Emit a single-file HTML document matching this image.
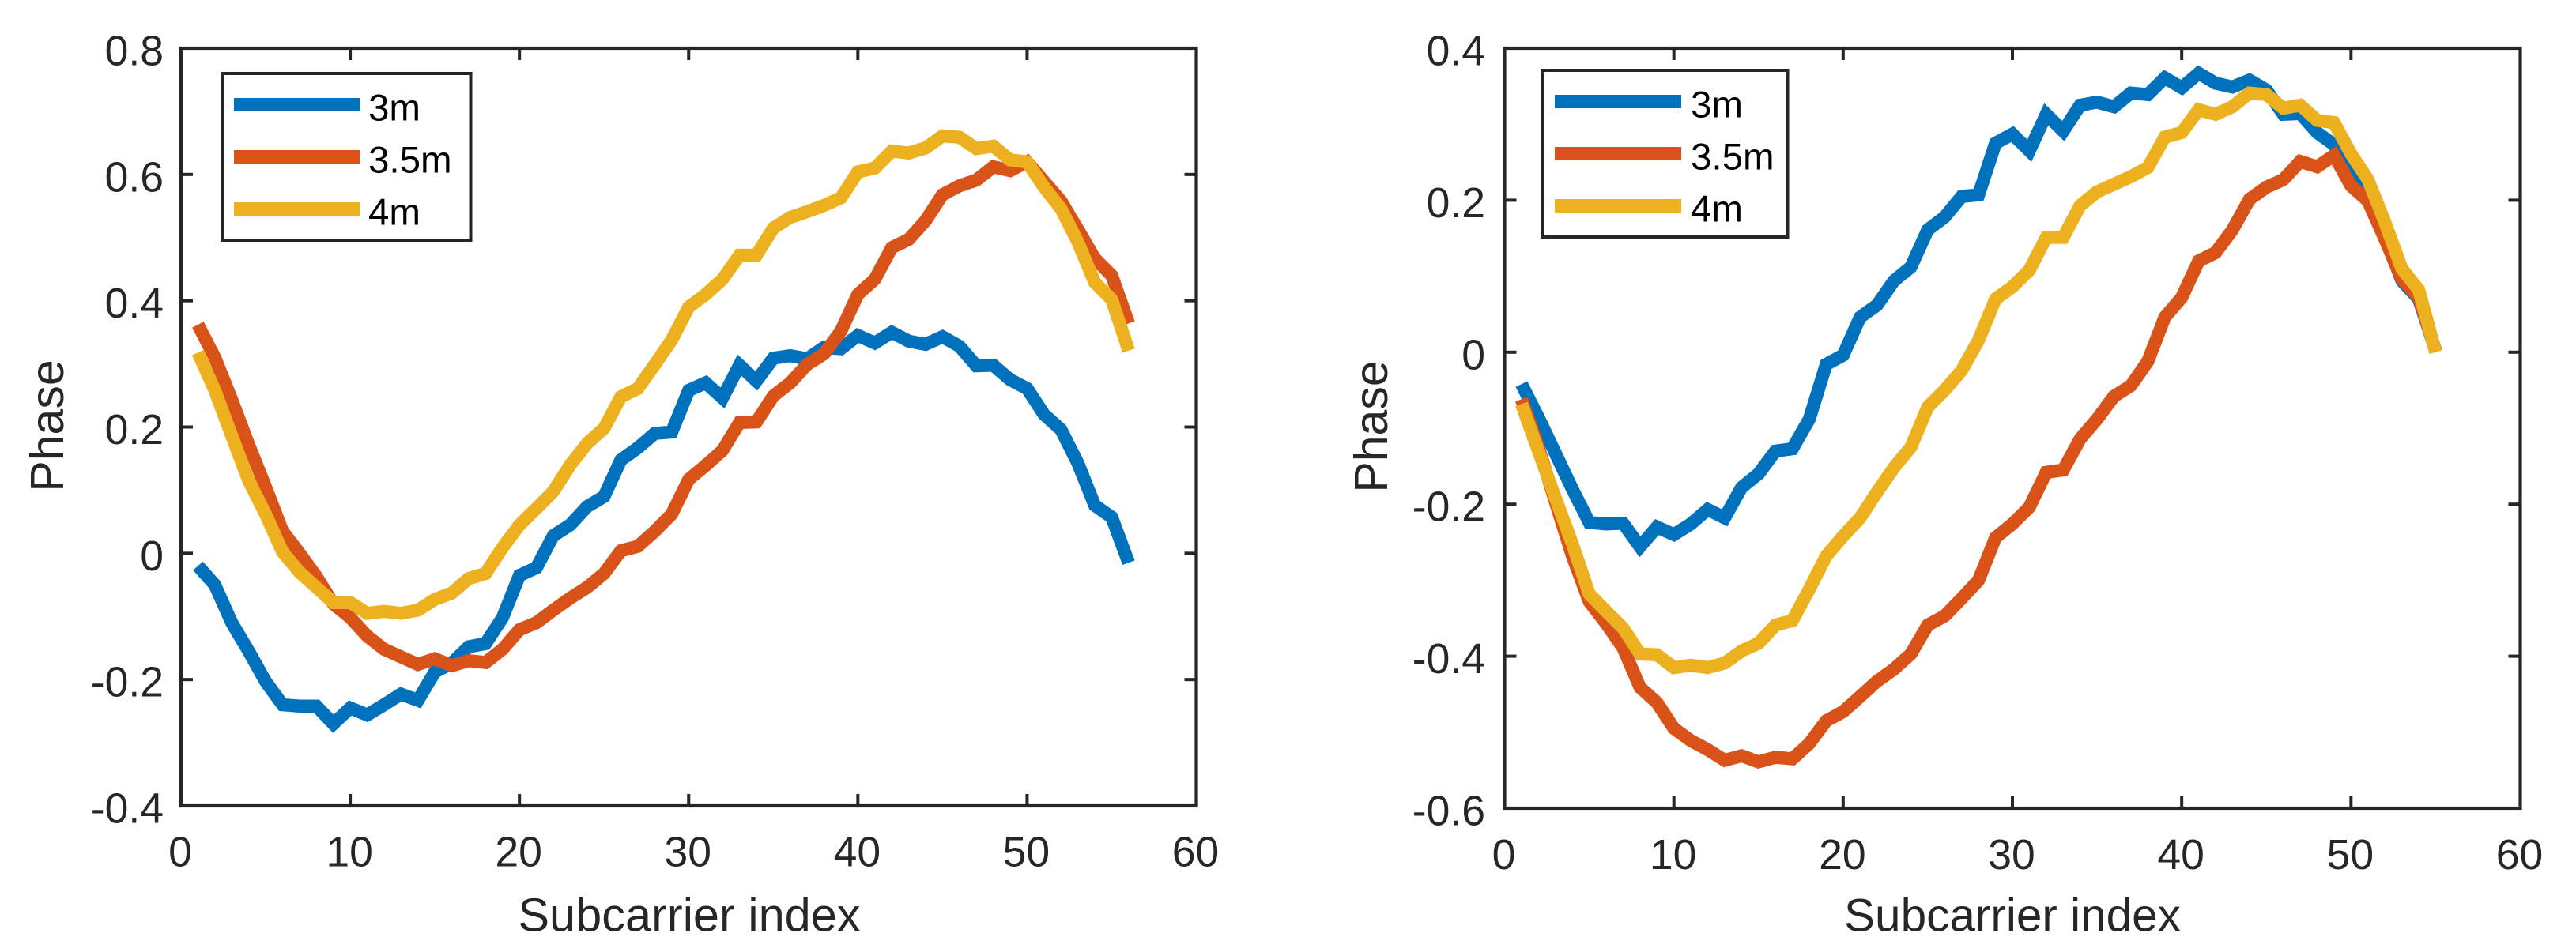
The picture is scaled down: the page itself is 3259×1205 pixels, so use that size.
<!DOCTYPE html>
<html lang="en">
<head>
<meta charset="utf-8">
<title>Phase vs subcarrier index</title>
<style>
html,body{margin:0;padding:0;background:#fff;width:3259px;height:1205px;overflow:hidden}
svg{display:block;font-family:"Liberation Sans",Arial,sans-serif}
</style>
</head>
<body>
<svg id="figure" width="3259" height="1205" viewBox="0 0 3259 1205" xmlns="http://www.w3.org/2000/svg"></svg>
<script>
const seriesNames = ['3m', '3.5m', '4m'];
const xTicks = [0, 10, 20, 30, 40, 50, 60];
const xTickLabels = ['0', '10', '20', '30', '40', '50', '60'];

const leftYTicks = [-0.4, -0.2, 0, 0.2, 0.4, 0.6, 0.8];
const leftYTickLabels = ['-0.4', '-0.2', '0', '0.2', '0.4', '0.6', '0.8'];
const rightYTicks = [-0.6, -0.4, -0.2, 0, 0.2, 0.4];
const rightYTickLabels = ['-0.6', '-0.4', '-0.2', '0', '0.2', '0.4'];

const left3m = [-0.02,-0.05,-0.11,-0.155,-0.203,-0.24,-0.242,-0.242,-0.27,-0.245,-0.256,-0.24,-0.223,-0.233,-0.188,-0.174,-0.148,-0.143,-0.102,-0.035,-0.023,0.028,0.045,0.074,0.09,0.148,0.167,0.19,0.192,0.258,0.27,0.246,0.298,0.273,0.309,0.313,0.308,0.326,0.324,0.345,0.333,0.35,0.336,0.331,0.343,0.328,0.297,0.298,0.275,0.261,0.22,0.196,0.143,0.076,0.057,-0.015];
const left35m = [0.362,0.31,0.243,0.172,0.105,0.035,0,-0.037,-0.08,-0.102,-0.131,-0.152,-0.164,-0.176,-0.167,-0.178,-0.17,-0.173,-0.152,-0.121,-0.11,-0.09,-0.071,-0.054,-0.032,0.004,0.011,0.035,0.062,0.117,0.139,0.163,0.207,0.208,0.249,0.27,0.299,0.316,0.352,0.41,0.434,0.484,0.497,0.527,0.568,0.582,0.591,0.612,0.606,0.62,0.589,0.558,0.513,0.467,0.44,0.364];
const left4m = [0.318,0.258,0.186,0.115,0.062,0.002,-0.03,-0.054,-0.078,-0.078,-0.095,-0.092,-0.095,-0.09,-0.073,-0.063,-0.04,-0.032,0.009,0.045,0.071,0.098,0.14,0.174,0.198,0.248,0.261,0.299,0.338,0.39,0.41,0.434,0.472,0.472,0.515,0.532,0.541,0.551,0.563,0.604,0.61,0.637,0.634,0.642,0.661,0.659,0.641,0.645,0.623,0.62,0.58,0.546,0.493,0.429,0.402,0.321];

const right3m = [-0.042,-0.086,-0.133,-0.18,-0.224,-0.226,-0.225,-0.256,-0.23,-0.24,-0.226,-0.207,-0.218,-0.178,-0.16,-0.13,-0.127,-0.088,-0.016,-0.004,0.046,0.062,0.094,0.112,0.161,0.178,0.205,0.207,0.275,0.287,0.265,0.313,0.291,0.325,0.329,0.323,0.341,0.339,0.361,0.348,0.367,0.354,0.349,0.358,0.345,0.313,0.314,0.289,0.273,0.232,0.205,0.153,0.094,0.07,0.002];
const right35m = [-0.062,-0.125,-0.197,-0.268,-0.328,-0.357,-0.389,-0.441,-0.461,-0.495,-0.511,-0.523,-0.537,-0.531,-0.539,-0.533,-0.535,-0.515,-0.485,-0.473,-0.453,-0.433,-0.417,-0.397,-0.359,-0.347,-0.324,-0.3,-0.244,-0.226,-0.204,-0.158,-0.155,-0.114,-0.088,-0.058,-0.044,-0.012,0.046,0.072,0.12,0.131,0.161,0.201,0.217,0.227,0.251,0.244,0.259,0.219,0.199,0.149,0.096,0.072,0.002];
const right4m = [-0.068,-0.13,-0.192,-0.252,-0.318,-0.341,-0.363,-0.397,-0.398,-0.415,-0.412,-0.415,-0.409,-0.393,-0.383,-0.359,-0.353,-0.312,-0.268,-0.242,-0.218,-0.184,-0.152,-0.125,-0.072,-0.05,-0.024,0.016,0.07,0.086,0.108,0.151,0.151,0.193,0.211,0.221,0.231,0.243,0.283,0.289,0.319,0.313,0.323,0.341,0.339,0.321,0.325,0.305,0.302,0.261,0.227,0.171,0.11,0.082,0];

const svgNS = 'http://www.w3.org/2000/svg';
const figure = document.getElementById('figure');
const seriesColors = ['#0072BD', '#D95319', '#EDB120'];
const inkColor = '#262626';

function make(parent, tag, attrs) {
  const node = document.createElementNS(svgNS, tag);
  for (const key in attrs) node.setAttribute(key, attrs[key]);
  parent.appendChild(node);
  return node;
}

function drawChart(cfg) {
  const x = v => cfg.left + (v - 0) / 60 * (cfg.right - cfg.left);
  const y = v => cfg.bottom - (v - cfg.yMin) / (cfg.yMax - cfg.yMin) * (cfg.bottom - cfg.top);

  const chart = make(figure, 'g', {});
  
  

  // series
  cfg.series.forEach((values, s) => {
    const points = values.map((v, i) => x(i + 1).toFixed(1) + ',' + y(v).toFixed(1)).join(' ');
    const line = make(chart, 'polyline', {points: points, fill: 'none', stroke: seriesColors[s], 'stroke-width': 16.5, 'stroke-linejoin': 'miter', 'stroke-miterlimit': 3, 'stroke-linecap': 'butt'});
    
    
  });

  // axes box
  const box = make(chart, 'rect', {x: cfg.left, y: cfg.top, width: cfg.right - cfg.left, height: cfg.bottom - cfg.top, fill: 'none', stroke: inkColor, 'stroke-width': 4.2});
  
  

  // x ticks
  xTicks.forEach((t, i) => {
    if (t !== 0 && t !== 60) {
      const tickB = make(chart, 'line', {x1: x(t), x2: x(t), y1: cfg.bottom, y2: cfg.bottom - 15, stroke: inkColor, 'stroke-width': 4});
      
      
      const tickT = make(chart, 'line', {x1: x(t), x2: x(t), y1: cfg.top, y2: cfg.top + 15, stroke: inkColor, 'stroke-width': 4});
      
      
    }
    const label = make(chart, 'text', {x: x(t) - 1, y: cfg.xLabelBaseline, 'text-anchor': 'middle', 'font-size': 53.5, fill: inkColor});
    label.textContent = xTickLabels[i];
    
    
  });

  // y ticks
  cfg.yTicks.forEach((t, i) => {
    if (t !== cfg.yMin && t !== cfg.yMax) {
      const tickL = make(chart, 'line', {x1: cfg.left, x2: cfg.left + 15, y1: y(t), y2: y(t), stroke: inkColor, 'stroke-width': 4});
      
      
      const tickR = make(chart, 'line', {x1: cfg.right, x2: cfg.right - 15, y1: y(t), y2: y(t), stroke: inkColor, 'stroke-width': 4});
      
      
    }
    const label = make(chart, 'text', {x: cfg.yLabelRight, y: y(t) + 21.5, 'text-anchor': 'end', 'font-size': 53.5, fill: inkColor});
    label.textContent = cfg.yTickLabels[i];
    
    
  });

  // axis titles
  const xTitle = make(chart, 'text', {x: cfg.xTitleX, y: 1178.5, 'text-anchor': 'middle', 'font-size': cfg.xTitleSize, fill: inkColor});
  xTitle.textContent = 'Subcarrier index';
  
  

  const yTitle = make(chart, 'text', {x: 0, y: 0, transform: 'translate(' + cfg.yTitleX + ' ' + cfg.yTitleY + ') rotate(-90)', 'text-anchor': 'middle', 'font-size': 59, fill: inkColor});
  yTitle.textContent = 'Phase';
  
  

  // legend
  const legend = make(chart, 'g', {});
  
  
  const lg = cfg.legend;
  const legendBox = make(legend, 'rect', {x: lg.x0, y: lg.y0, width: lg.x1 - lg.x0, height: lg.y1 - lg.y0, fill: '#fff', stroke: inkColor, 'stroke-width': 4});
  
  
  seriesNames.forEach((name, s) => {
    const rowY = lg.rowY + s * lg.rowStep;
    const swatch = make(legend, 'line', {x1: lg.lineX0, x2: lg.lineX1, y1: rowY, y2: rowY, stroke: seriesColors[s], 'stroke-width': 17});
    
    
    const text = make(legend, 'text', {x: lg.textX, y: rowY + 20, 'font-size': 47.5, fill: '#000'});
    text.textContent = name;
    
    
  });
}

drawChart({
  name: 'left-phase-chart',
  left: 229, right: 1513.5, top: 61, bottom: 1020,
  yMin: -0.4, yMax: 0.8,
  yTicks: leftYTicks, yTickLabels: leftYTickLabels,
  series: [left3m, left35m, left4m],
  xLabelBaseline: 1096.5, yLabelRight: 207,
  xTitleX: 872, xTitleSize: 59.5, yTitleX: 80, yTitleY: 539,
  legend: {x0: 281, x1: 595.5, y0: 93, y1: 304, lineX0: 296, lineX1: 456, rowY: 132.5, rowStep: 66, textX: 466}
});

drawChart({
  name: 'right-phase-chart',
  left: 1903.5, right: 3188.5, top: 61, bottom: 1023,
  yMin: -0.6, yMax: 0.4,
  yTicks: rightYTicks, yTickLabels: rightYTickLabels,
  series: [right3m, right35m, right4m],
  xLabelBaseline: 1100, yLabelRight: 1879,
  xTitleX: 2546, xTitleSize: 58.5, yTitleX: 1755, yTitleY: 540,
  legend: {x0: 1951, x1: 2261.5, y0: 89, y1: 300, lineX0: 1967, lineX1: 2127, rowY: 128.5, rowStep: 66, textX: 2139}
});
</script>
</body>
</html>
